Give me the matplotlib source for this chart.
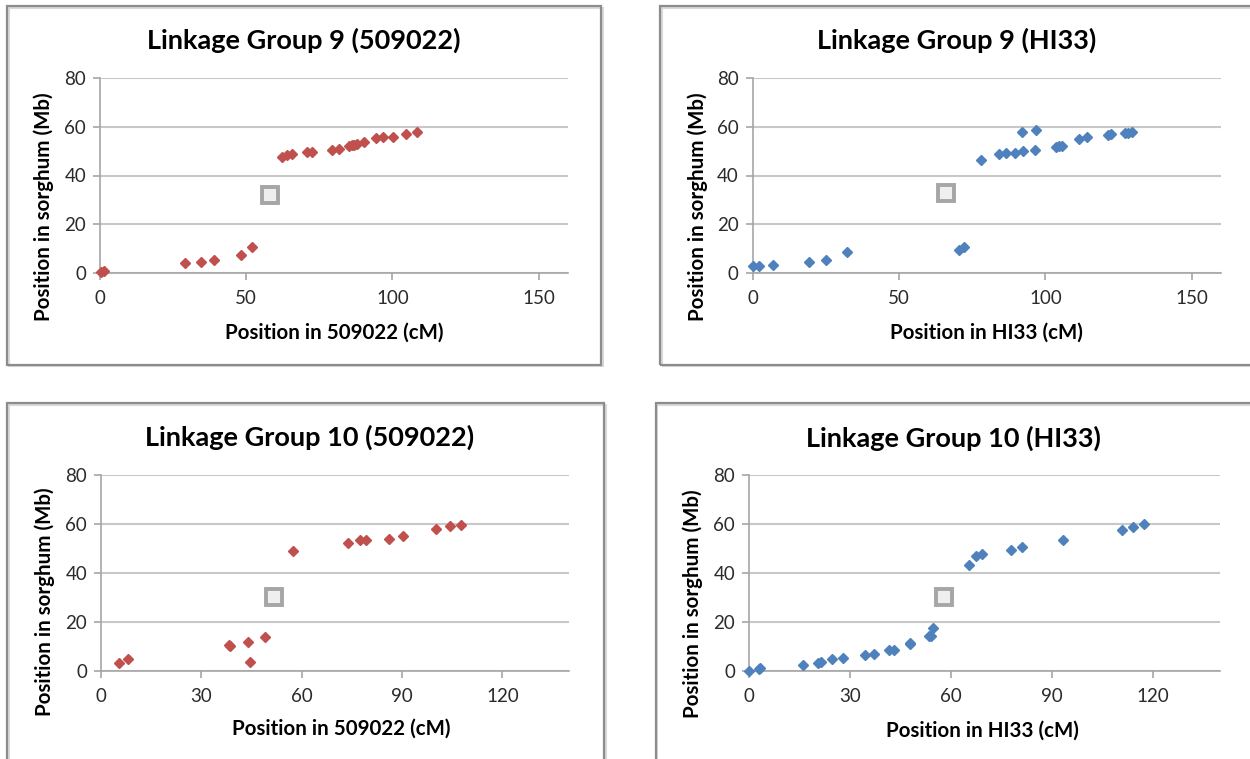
import matplotlib
matplotlib.use("Agg")
import matplotlib.pyplot as plt
from matplotlib.patches import Rectangle

# ---- data: marker positions (cM) vs. sorghum physical position (Mb) ----
lg9_509022_cm = [0.5, 1.5, 29.1, 34.5, 39.0, 48.2, 51.9, 62.3, 63.9, 65.8, 70.7, 72.5,
                 79.2, 81.9, 85.1, 86.1, 87.0, 87.8, 90.3, 94.4, 96.9, 100.2, 104.7, 108.5]
lg9_509022_mb = [0.5, 1.0, 4.1, 4.8, 5.5, 7.5, 10.8, 47.7, 48.2, 48.8, 49.7, 49.8,
                 50.3, 51.0, 52.1, 52.4, 52.5, 52.8, 53.8, 55.5, 55.9, 55.9, 57.0, 57.7]

lg9_hi33_cm = [0.0, 2.2, 7.1, 19.2, 25.1, 32.2, 70.5, 72.1, 78.0, 84.2, 86.4, 89.7, 92.3,
               92.1, 96.4, 96.9, 103.6, 104.7, 105.7, 111.6, 114.1, 121.5, 122.3, 127.2,
               128.4, 129.7]
lg9_hi33_mb = [2.9, 2.9, 3.5, 4.8, 5.5, 8.7, 9.7, 10.9, 46.2, 48.8, 49.4, 49.4, 49.9,
               57.6, 50.5, 58.5, 51.7, 52.0, 52.1, 55.0, 55.7, 56.7, 57.1, 57.5,
               57.5, 57.8]

lg10_509022_cm = [5.4, 8.1, 38.3, 38.6, 44.0, 44.5, 48.9, 57.4, 73.8, 77.5, 79.2, 86.2,
                  90.4, 100.2, 104.3, 107.6]
lg10_509022_mb = [3.3, 4.9, 10.9, 10.2, 12.1, 3.9, 14.0, 49.3, 52.2, 53.5, 53.7, 54.1,
                  55.2, 57.9, 59.4, 59.7]

lg10_hi33_cm = [0.0, 3.1, 3.3, 16.2, 20.5, 21.3, 24.8, 28.0, 34.6, 37.1, 41.6, 43.0, 47.9,
                48.0, 53.5, 54.1, 54.8, 65.4, 67.5, 69.4, 77.8, 81.1, 93.4, 111.0,
                114.3, 117.6]
lg10_hi33_mb = [0.3, 1.1, 1.4, 2.7, 3.3, 3.7, 4.9, 5.6, 6.5, 7.1, 8.7, 8.7, 11.2,
                11.4, 14.3, 14.3, 17.7, 43.3, 46.9, 48.0, 49.7, 50.6, 53.6, 57.8,
                58.7, 60.2]

# centromere positions (square markers)
centromere_cm = [58.2, 66.1, 51.8, 58.0]
centromere_mb = [32.1, 32.7, 30.2, 30.5]

titles = ["Linkage Group 9 (509022)", "Linkage Group 9 (HI33)",
          "Linkage Group 10 (509022)", "Linkage Group 10 (HI33)"]
xlabels = ["Position in 509022 (cM)", "Position in HI33 (cM)",
           "Position in 509022 (cM)", "Position in HI33 (cM)"]
ylabel = "Position in sorghum (Mb)"
x_ticks_lg9 = [0, 50, 100, 150]
x_ticks_lg10 = [0, 30, 60, 90, 120]
y_ticks = [0, 20, 40, 60, 80]

RED = "#C0504D"
BLUE = "#4F81BD"

W, H = 1250, 759
fig = plt.figure(figsize=(W / 100, H / 100), dpi=100)
fig.patch.set_facecolor("white")

FAMILY = ["Lato", "DejaVu Sans"]
TITLE_FONT = dict(family=FAMILY, weight="bold", size=19.5, color="black")
LABEL_FONT = dict(family=FAMILY, weight="bold", size=14.8, color="black")


def fx(px):
    return px / W


def fy(py):
    return 1 - py / H


panels = [
    # axes rect in pixels: left, top (y = 80), right, bottom (y = 0)
    dict(ax=(100, 77.7, 567.8, 273.3), box=(7.3, 6.3, 601.3, 364.7),
         xs=lg9_509022_cm, ys=lg9_509022_mb, color=RED, xlim=160, xt=x_ticks_lg9,
         title=(304, 40.5), xl=(334.5, 333), yl=(44, 206.5)),
    dict(ax=(752.7, 77.7, 1220.9, 273.3), box=(660.2, 6.3, 1262, 364.7),
         xs=lg9_hi33_cm, ys=lg9_hi33_mb, color=BLUE, xlim=160, xt=x_ticks_lg9,
         title=(956.7, 40.5), xl=(986.6, 333), yl=(697.5, 206.5)),
    dict(ax=(101, 475.3, 569.2, 671.3), box=(7.3, 403.3, 604, 775),
         xs=lg10_509022_cm, ys=lg10_509022_mb, color=RED, xlim=140, xt=x_ticks_lg10,
         title=(310, 437.7), xl=(341, 729), yl=(45, 602)),
    dict(ax=(749, 475.3, 1219.8, 671.3), box=(655.7, 403.3, 1262, 775),
         xs=lg10_hi33_cm, ys=lg10_hi33_mb, color=BLUE, xlim=140, xt=x_ticks_lg10,
         title=(953.3, 437.9), xl=(982.4, 730.5), yl=(692.3, 604)),
]

for i, p in enumerate(panels):
    # chart frame with a faint shadow
    bx0, by0, bx1, by1 = p["box"]
    fig.patches.append(Rectangle((fx(bx0) + 1.5 / W, fy(by1) - 1.5 / H), fx(bx1 - bx0), (by1 - by0) / H,
                                 transform=fig.transFigure, fill=False,
                                 edgecolor="#d9d9d9", linewidth=1.5, zorder=0))
    fig.patches.append(Rectangle((fx(bx0), fy(by1)), fx(bx1 - bx0), (by1 - by0) / H,
                                 transform=fig.transFigure, fill=False,
                                 edgecolor="#8c8c8c", linewidth=1.6, zorder=1))

    l, t, r, b = p["ax"]
    ax = fig.add_axes([fx(l), fy(b), fx(r - l), (b - t) / H])
    ax.set_xlim(0, p["xlim"])
    ax.set_ylim(0, 80)
    ax.set_xticks(p["xt"])
    ax.set_yticks(y_ticks)
    for s in ["top", "right"]:
        ax.spines[s].set_visible(False)
    for s in ["left", "bottom"]:
        ax.spines[s].set_color("#a6a6a6")
        ax.spines[s].set_linewidth(1.2)
    ax.grid(axis="y", color="#c8c8c8", linewidth=1.5)
    ax.set_axisbelow(True)
    ax.tick_params(axis="both", direction="out", length=5, width=1.2, color="#a6a6a6",
                   labelcolor="#2b2b2b", labelsize=13.5)
    ax.tick_params(axis="y", pad=5)
    ax.tick_params(axis="x", pad=7)
    for lab in ax.get_xticklabels() + ax.get_yticklabels():
        lab.set_fontfamily(FAMILY)

    ax.plot(p["xs"], p["ys"], linestyle="none", marker="D", markersize=5.5,
            color=p["color"], markeredgecolor=p["color"], clip_on=False, zorder=3)
    ax.plot([centromere_cm[i]], [centromere_mb[i]], linestyle="none", marker="s",
            markersize=11, markerfacecolor="#efefef", markeredgecolor="#a6a6a6",
            markeredgewidth=2.8, clip_on=False, zorder=3)

    fig.text(fx(p["title"][0]), fy(p["title"][1]), titles[i], ha="center", va="center",
             **TITLE_FONT)
    fig.text(fx(p["xl"][0]), fy(p["xl"][1]), xlabels[i], ha="center", va="center",
             **LABEL_FONT)
    fig.text(fx(p["yl"][0]), fy(p["yl"][1]), ylabel, ha="center", va="center",
             rotation=90, **LABEL_FONT)

fig.savefig("out.png", dpi=100, facecolor="white")
